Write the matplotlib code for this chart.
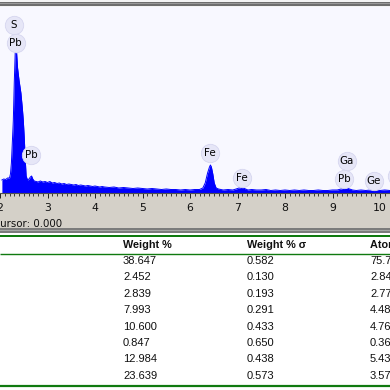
import matplotlib
matplotlib.use("Agg")
import matplotlib.pyplot as plt
from matplotlib.patches import Rectangle
from matplotlib.ticker import MultipleLocator

plt.rcParams['font.family'] = ['Liberation Sans', 'DejaVu Sans']

# ---- spectrum data (keV, relative counts) ----
energy = [2.04, 2.08, 2.12, 2.16, 2.20, 2.22, 2.24, 2.26, 2.28, 2.30, 2.32, 2.335,
          2.35, 2.37, 2.40, 2.44, 2.47, 2.49, 2.51, 2.53, 2.55, 2.58, 2.61, 2.64,
          2.665, 2.69, 2.72, 2.76, 2.80, 2.85, 2.90, 2.95, 3.00, 3.05, 3.10, 3.15,
          3.20, 3.25, 3.30, 3.35, 3.40, 3.45, 3.50, 3.55, 3.60, 3.65, 3.70, 3.75,
          3.80, 3.85, 3.90, 3.95, 4.00, 4.05, 4.10, 4.15, 4.20, 4.30, 4.40, 4.50,
          4.60, 4.70, 4.80, 4.90, 5.00, 5.10, 5.20, 5.30, 5.40, 5.50, 5.60, 5.70,
          5.80, 5.90, 6.00, 6.10, 6.20, 6.27, 6.32, 6.37, 6.41, 6.43, 6.45, 6.48,
          6.51, 6.55, 6.60, 6.65, 6.70, 6.80, 6.90, 6.97, 7.03, 7.08, 7.12, 7.17,
          7.22, 7.30, 7.40, 7.50, 7.60, 7.70, 7.80, 7.90, 8.00, 8.10, 8.20, 8.30,
          8.40, 8.50, 8.60, 8.70, 8.80, 8.90, 9.00, 9.10, 9.18, 9.24, 9.30, 9.36,
          9.42, 9.50, 9.60, 9.70, 9.80, 9.86, 9.92, 10.00, 10.10, 10.21]
counts = [13, 14, 13.5, 15, 15, 19, 30, 50, 72, 110, 140, 143,
          140, 125, 113, 100, 85, 73, 56, 35, 17, 13, 14, 16,
          17, 14, 12, 11.5, 11, 12, 11, 11.5, 10.5, 11.5, 10, 10.5,
          9.5, 10, 9, 9.5, 8.5, 9, 8.5, 8, 8.5, 7.5, 8, 7.5,
          7, 7.5, 7, 6.5, 7, 6.5, 6, 6.5, 6, 5.5, 6, 5,
          5.5, 5, 4.5, 5, 4.5, 4, 4.5, 4, 3.5, 4, 3.5, 3.5,
          3, 3.5, 3, 3.5, 3.5, 5, 10, 20, 26, 28, 26, 19,
          10, 5, 4, 3.5, 3, 3.5, 3, 4, 5, 5.5, 5, 4,
          3, 3.5, 3, 3, 3.5, 2.5, 3, 2.5, 3, 2.5, 3, 2.5,
          3, 2.5, 2.5, 3, 2.5, 2.5, 3, 3, 4, 5, 5, 4,
          3, 2.5, 3, 2.5, 3, 3.5, 3, 2.5, 3, 2.5]

# peak labels (keV, label-height in counts)
peak_names = ["S", "Pb", "Pb", "Fe", "Fe", "Ga", "Pb", "Ge", "Pb"]
peak_energy = [2.29, 2.33, 2.65, 6.42, 7.09, 9.30, 9.25, 9.87, 10.36]
peak_label_h = [168, 150, 38, 40, 15, 32, 14, 12, 17]

x_ticks = [2, 3, 4, 5, 6, 7, 8, 9, 10]

# ---- table data ----
col_headers = ["Weight %", "Weight % \u03c3", "Atomic %"]
weight = ["38.647", "2.452", "2.839", "7.993", "10.600", "0.847", "12.984", "23.639"]
weight_sigma = ["0.582", "0.130", "0.193", "0.291", "0.433", "0.650", "0.438", "0.573"]
atomic = ["75.719", "2.846", "2.779", "4.486", "4.767", "0.365", "5.436", "3.575"]

W = H = 390
fig = plt.figure(figsize=(3.9, 3.9), dpi=100)
fig.patch.set_facecolor("white")

# pixel overlay for background chrome
bg = fig.add_axes([0, 0, 1, 1], zorder=0)
bg.set_xlim(0, W); bg.set_ylim(H, 0); bg.axis("off")
bg.add_patch(Rectangle((0, 0), W, 7, color="#f4f4f4", lw=0))
bg.add_patch(Rectangle((0, 2), W, 4, color="#6e6e6e", lw=0))
bg.add_patch(Rectangle((0, 3.4), W, 1, color="#9a9a9a", lw=0))
bg.add_patch(Rectangle((0, 193), W, 35, color="#d4d0c8", lw=0))
bg.add_patch(Rectangle((0, 228), W, 5, color="#7c7c7c", lw=0))
bg.add_patch(Rectangle((0, 229.5), W, 1.2, color="#a8a8a8", lw=0))
for yy, lw in [(235.5, 2.0), (254, 1.4), (386, 2.2)]:
    bg.plot([0, W], [yy, yy], color="#107a10", lw=lw * 0.72, solid_capstyle="butt")

bg.text(-7, 224, "Cursor: 0.000", fontsize=7.4, ha="left", va="center",
        family=["DejaVu Sans"], color="#101010")

# table text
col_x = [123, 247, 370]
for cx, h in zip(col_x, col_headers):
    bg.text(cx, 245, h, fontsize=7.8, fontweight="bold", ha="left", va="center",
            color="#101010")
for i in range(len(weight)):
    yy = 261 + i * 16.4
    for cx, v in zip(col_x, [weight[i], weight_sigma[i], atomic[i]]):
        bg.text(cx, yy, v, fontsize=8, ha="left", va="center", color="#101010")

# spectrum axes
x0 = 2.036
pxk = 47.71
x1 = x0 + W / pxk
top_px, base_px = 7, 193
ax = fig.add_axes([0, 1 - base_px / H, 1, (base_px - top_px) / H], zorder=1)
ax.set_facecolor("#f8f8ff")
ax.fill_between(energy, counts, 0, color="#0000ff", lw=0)
ax.plot(energy, counts, color="#0000ff", lw=0.7)
ax.set_xlim(x0, x1)
ymax = base_px - top_px
ax.set_ylim(0, ymax)
for s in ["top", "left", "right"]:
    ax.spines[s].set_visible(False)
ax.spines["bottom"].set_color("#505050")
ax.spines["bottom"].set_linewidth(0.8)
ax.set_yticks([])
ax.set_xticks(x_ticks)
ax.xaxis.set_minor_locator(MultipleLocator(0.1))
ax.tick_params(axis="x", which="major", direction="out", length=3.3, width=0.7,
               color="#202020", pad=4.0, labelsize=7.8, labelcolor="#101010")
ax.tick_params(axis="x", which="minor", direction="out", length=2.2, width=0.6,
               color="#202020")
for lab in ax.get_xticklabels():
    lab.set_fontfamily(["DejaVu Sans"])

# connector lines from label bubbles toward the main peak
ax.plot([2.29, 2.31], [160, 158], color="#d6d6ef", lw=1.0, zorder=2)
ax.plot([2.33, 2.33], [143, 141], color="#d6d6ef", lw=1.0, zorder=2)

# label bubbles
for name, e, hh in zip(peak_names, peak_energy, peak_label_h):
    ax.scatter([e], [hh], s=175, color="#e6e6f7", edgecolor="#d6d6ef", lw=0.6,
               zorder=3, clip_on=False)
    ax.text(e, hh, name, fontsize=7.4, ha="center", va="center", color="#000000",
            zorder=4, family=["DejaVu Sans"])

fig.savefig("out.png", dpi=100)
